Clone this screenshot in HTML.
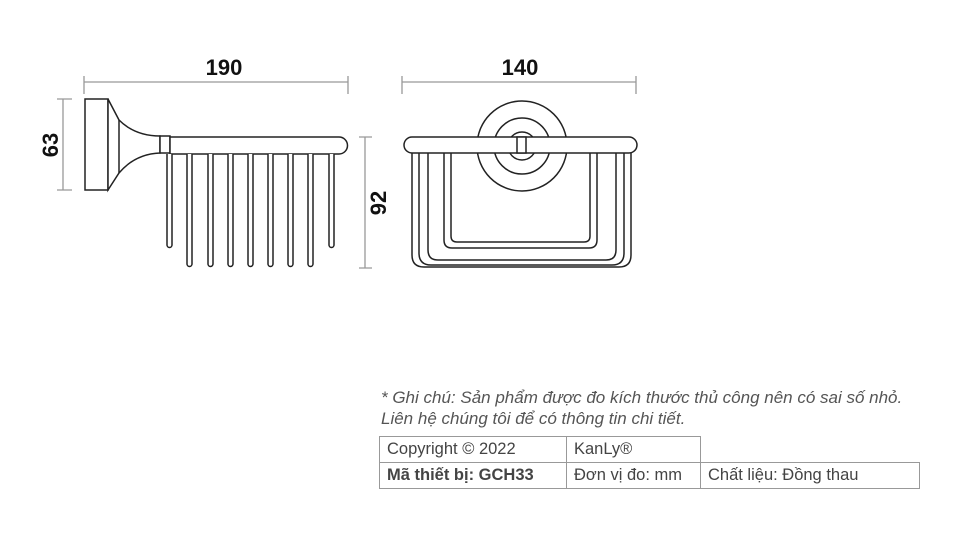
<!DOCTYPE html>
<html><head><meta charset="utf-8"><style>
html,body{margin:0;padding:0;background:#fff;}
body{width:960px;height:540px;position:relative;overflow:hidden;font-family:"Liberation Sans",sans-serif;}
.note{position:absolute;left:381px;font-style:italic;font-size:17px;color:#555;}
table{position:absolute;left:379px;top:436px;border-collapse:collapse;font-size:16.5px;color:#444;}
td{border:1px solid #999;height:25px;padding:0 7px;white-space:nowrap;}
</style></head><body>
<svg width="960" height="540" style="position:absolute;left:0;top:0" xmlns="http://www.w3.org/2000/svg">
<g fill="none" stroke="#999" stroke-width="1.3">
<path d="M84 82H348M84 76V94M348 76V94"/>
<path d="M63 99V190M57 99H72M57 190H72"/>
<path d="M402 82H636M402 76V94M636 76V94"/>
<path d="M365 137V268M359 137H372M359 268H372"/>
</g>
<g font-family="Liberation Sans" font-weight="bold" font-size="22" fill="#111" text-anchor="middle">
<text x="224" y="75">190</text>
<text x="520" y="75">140</text>
<text transform="translate(58,145) rotate(-90)">63</text>
<text transform="translate(386,203) rotate(-90)">92</text>
</g>
<g fill="#fff" stroke="#222" stroke-width="1.5">
<rect x="85" y="99" width="23" height="91"/>
<path d="M108 99L119 120Q135 136 160 136V153Q135 154 119 173L108 190Z"/>
<path d="M119 120V173"/>
<rect x="160" y="136" width="10" height="17"/>
<path d="M170 137H339A8 8 0 0 1 339 154H170Z"/>
<g>
<path d="M167 154V245A2.5 2.5 0 0 0 172 245V154"/>
<path d="M187 154V264A2.5 2.5 0 0 0 192 264V154"/>
<path d="M208 154V264A2.5 2.5 0 0 0 213 264V154"/>
<path d="M228 154V264A2.5 2.5 0 0 0 233 264V154"/>
<path d="M248 154V264A2.5 2.5 0 0 0 253 264V154"/>
<path d="M268 154V264A2.5 2.5 0 0 0 273 264V154"/>
<path d="M288 154V264A2.5 2.5 0 0 0 293 264V154"/>
<path d="M308 154V264A2.5 2.5 0 0 0 313 264V154"/>
<path d="M329 154V245A2.5 2.5 0 0 0 334 245V154"/>
</g>
<circle cx="522" cy="146" r="45"/>
<circle cx="522" cy="146" r="28"/>
<circle cx="522" cy="146" r="14"/>
<path fill="none" d="M412 153V255Q412 267 424 267H619Q631 267 631 255V153"/>
<path fill="none" d="M419 153V253Q419 265 431 265H612Q624 265 624 253V153"/>
<path fill="none" d="M428 153V250Q428 260 438 260H606Q616 260 616 250V153"/>
<path fill="none" d="M444 153V240Q444 248 452 248H589Q597 248 597 240V153"/>
<path fill="none" d="M451 153V236Q451 242 457 242H584Q590 242 590 236V153"/>
<path d="M412 137H629A8 8 0 0 1 629 153H412A8 8 0 0 1 412 137Z"/>
<rect x="517" y="137" width="9" height="16"/>
</g>
</svg>
<div class="note" style="top:388px">* Ghi chú: Sản phẩm được đo kích thước thủ công nên có sai số nhỏ.</div>
<div class="note" style="top:409px">Liên hệ chúng tôi để có thông tin chi tiết.</div>
<table>
<tr><td style="width:172px">Copyright © 2022</td><td style="width:119px">KanLy®</td><td style="border:none;border-left:1px solid #999;border-bottom:1px solid #999;width:204px"></td></tr>
<tr><td style="font-weight:bold">Mã thiết bị: GCH33</td><td>Đơn vị đo: mm</td><td>Chất liệu: Đồng thau</td></tr>
</table>
</body></html>
